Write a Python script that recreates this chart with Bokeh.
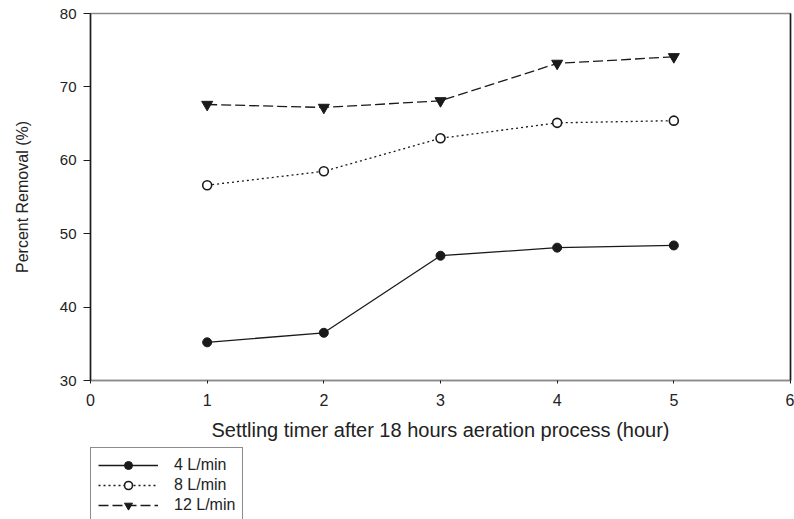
from bokeh.plotting import figure
from bokeh.layouts import column
from bokeh.models import Legend, LegendItem, LinearAxis, FixedTicker, Range1d
from bokeh.embed import file_html
from bokeh.resources import INLINE

hours = [1, 2, 3, 4, 5]
removal_4 = [35.2, 36.5, 47.0, 48.1, 48.4]
removal_8 = [56.6, 58.5, 63.0, 65.1, 65.4]
removal_12 = [67.6, 67.2, 68.1, 73.2, 74.1]
x_ticks = [0, 1, 2, 3, 4, 5, 6]
y_ticks = [30, 40, 50, 60, 70, 80]
series_labels = ["4 L/min", "8 L/min", "12 L/min"]
x_title = "Settling timer after 18 hours aeration process (hour)"
y_title = "Percent Removal (%)"

FONT = "Liberation Sans"
INK = "#1a1a1a"

p = figure(width=794, height=446, x_range=Range1d(0, 6), y_range=Range1d(30, 80),
           output_backend="svg", toolbar_location=None,
           min_border_left=90, min_border_right=4, min_border_top=13, min_border_bottom=66)
p.xgrid.visible = False
p.ygrid.visible = False
p.outline_line_color = "#8a8a8a"
p.outline_line_width = 1.5
p.background_fill_color = "white"
p.border_fill_color = "white"

# axes
xa = p.xaxis[0]
xa.ticker = FixedTicker(ticks=x_ticks)
xa.axis_line_color = "#8a8a8a"
xa.axis_line_width = 1.5
xa.major_tick_out = 3
xa.major_tick_in = 0
xa.minor_tick_line_color = None
xa.major_tick_line_color = INK
xa.major_label_text_font = FONT
xa.major_label_text_font_size = "16px"
xa.major_label_text_color = "#222222"
xa.major_label_standoff = 10
xa.axis_label = x_title
xa.axis_label_text_font = FONT
xa.axis_label_text_font_size = "20px"
xa.axis_label_text_font_style = "normal"
xa.axis_label_text_color = "#222222"
xa.axis_label_standoff = 10

ya = p.yaxis[0]
ya.ticker = FixedTicker(ticks=y_ticks)
ya.axis_line_color = INK
ya.axis_line_width = 1.5
ya.major_tick_out = 7
ya.major_tick_in = 0
ya.minor_tick_line_color = None
ya.major_tick_line_color = INK
ya.major_label_text_font = FONT
ya.major_label_text_font_size = "15px"
ya.major_label_text_color = "#222222"
ya.major_label_standoff = 7
ya.axis_label = y_title
ya.axis_label_text_font = FONT
ya.axis_label_text_font_size = "16px"
ya.axis_label_text_font_style = "normal"
ya.axis_label_text_color = "#222222"
ya.axis_label_standoff = 26

right = LinearAxis(ticker=FixedTicker(ticks=[]), major_label_text_font_size="0px",
                   axis_line_color=INK, axis_line_width=1.5,
                   major_tick_line_color=None, minor_tick_line_color=None)
p.add_layout(right, "right")

styles = [
    dict(dash="solid", marker="circle", size=9, fill=INK, lw=1.0),
    dict(dash="2 3", marker="circle", size=9, fill="white", lw=1.6),
    dict(dash="10 4", marker="inverted_triangle", size=11, fill=INK, lw=1.0),
]
series = [removal_4, removal_8, removal_12]

for vals, st in zip(series, styles):
    p.line(hours, vals, line_color=INK, line_width=1.3, line_dash=st["dash"])
    p.scatter(hours, vals, marker=st["marker"], size=st["size"], fill_color=st["fill"],
              line_color=INK, line_width=st["lw"])

# legend panel below the chart (same series, drawn outside its visible range)
lg = figure(width=794, height=73, x_range=Range1d(0, 1), y_range=Range1d(0, 1),
            output_backend="svg", toolbar_location=None,
            x_axis_location=None, y_axis_location=None,
            min_border_left=90, min_border_right=0, min_border_top=1, min_border_bottom=0)
lg.xgrid.visible = False
lg.ygrid.visible = False
lg.outline_line_color = None
lg.background_fill_color = "white"
lg.border_fill_color = "white"

items = []
for vals, st, lab in zip(series, styles, series_labels):
    r1 = lg.line(hours, vals, line_color=INK, line_width=1.3, line_dash=st["dash"])
    r2 = lg.scatter(hours, vals, marker=st["marker"], size=st["size"], fill_color=st["fill"],
                    line_color=INK, line_width=st["lw"])
    items.append(LegendItem(label=lab, renderers=[r1, r2]))

legend = Legend(items=items, location="top_left")
legend.padding = 7
legend.margin = 0
legend.spacing = 0
legend.glyph_width = 60
legend.glyph_height = 20
legend.label_height = 20
legend.label_standoff = 16
legend.label_text_font = FONT
legend.label_text_font_size = "16px"
legend.label_text_color = "#222222"
legend.label_text_align = "left"
legend.border_line_color = INK
legend.border_line_width = 1.2
legend.background_fill_color = "white"
legend.background_fill_alpha = 1.0
lg.add_layout(legend)

layout = column(p, lg, spacing=0)
open("out.html", "w").write(file_html(layout, INLINE))
